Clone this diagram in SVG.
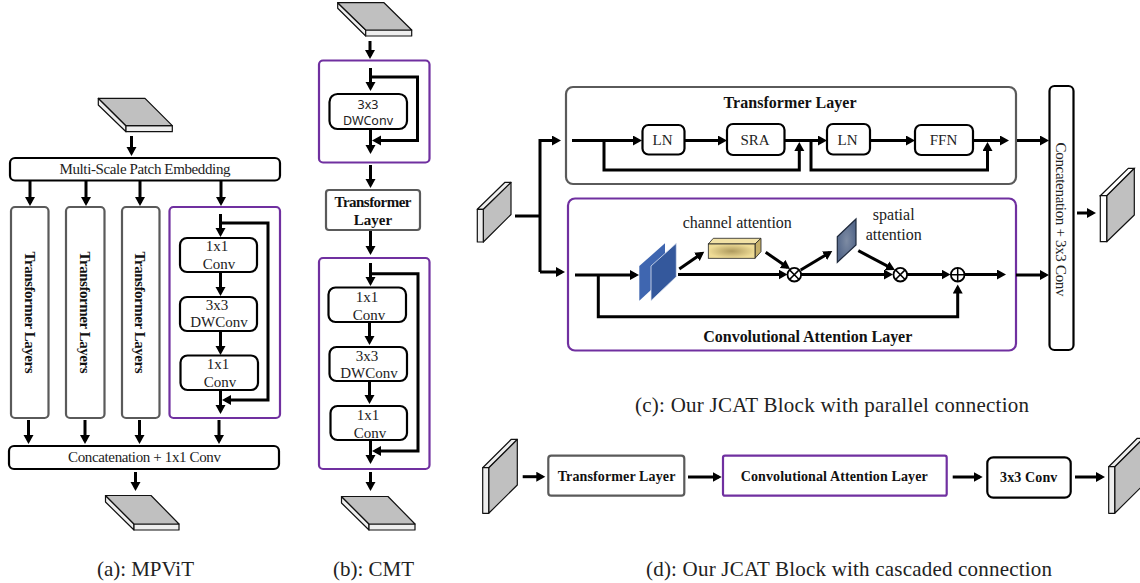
<svg xmlns="http://www.w3.org/2000/svg" width="1140" height="583" viewBox="0 0 1140 583">
<style>
text{font-family:"Liberation Serif","Times New Roman",serif;fill:#222;text-anchor:middle}
.t{font-size:15px}
.b{font-size:15px;font-weight:bold;fill:#111}
.cap{font-size:21px}
.bk{fill:#fff;stroke:#000;stroke-width:2.200}
.gr{fill:#fff;stroke:#5a5a5a;stroke-width:2.200}
.pu{fill:#fff;stroke:#7030a0;stroke-width:2.200}
.top{fill:#c0c0c0;stroke:#111;stroke-width:1.200;stroke-linejoin:round}
.fr{fill:#eee;stroke:#111;stroke-width:1.200;stroke-linejoin:round}
.c line,.c path{fill:none;stroke:#000;stroke-width:3}
.c .a{marker-end:url(#h)}
.op{fill:#fff;stroke:#000;stroke-width:1.800}
</style>
<defs>
<marker id="h" markerUnits="userSpaceOnUse" markerWidth="11" markerHeight="11" refX="6" refY="5" orient="auto"><path d="M0,0L9,5L0,10Z" fill="#000"/></marker>
<radialGradient id="gold"><stop offset="0" stop-color="#ae9a5e"/><stop offset="1" stop-color="#efdc96"/></radialGradient>
<radialGradient id="sp"><stop offset="0" stop-color="#7d8ba3"/><stop offset="1" stop-color="#55688a"/></radialGradient>
</defs>

<g id="a-in"><path class="fr" d="M98.300,98.300L126,125.700V131.700L98.300,105Z"/><path class="fr" d="M126,125.700H172.300V131.700H126Z"/><path class="top" d="M98.300,98.300H145L172.300,125.700H126Z"/></g>
<g id="a-embed"><rect class="bk" x="10" y="158" width="270" height="22.500" rx="5"/><text class="t" x="145" y="174" textLength="171">Multi-Scale Patch Embedding</text></g>
<g id="a-t1"><rect class="gr" x="11" y="207" width="37.500" height="211" rx="4"/><text class="b" transform="translate(25,312.500) rotate(90)" textLength="122">Transformer Layers</text></g>
<g id="a-t2"><rect class="gr" x="66" y="207" width="38.500" height="211" rx="4"/><text class="b" transform="translate(79.500,312.500) rotate(90)" textLength="122">Transformer Layers</text></g>
<g id="a-t3"><rect class="gr" x="122" y="207" width="37.500" height="211" rx="4"/><text class="b" transform="translate(135,312.500) rotate(90)" textLength="122">Transformer Layers</text></g>
<g id="a-conv"><rect class="pu" x="169.500" y="207" width="110.500" height="211" rx="4"/></g>
<g id="a-c1"><rect class="bk" x="180" y="238" width="77" height="34" rx="7"/><text class="t" x="217" y="251">1x1</text><text class="t" x="219" y="269">Conv</text></g>
<g id="a-c2"><rect class="bk" x="180" y="297" width="77" height="34" rx="7"/><text class="t" x="217" y="310">3x3</text><text class="t" x="219" y="327">DWConv</text></g>
<g id="a-c3"><rect class="bk" x="180.500" y="355.500" width="77.500" height="34.500" rx="7"/><text class="t" x="218" y="369">1x1</text><text class="t" x="220" y="387">Conv</text></g>
<g id="a-concat"><rect class="bk" x="9" y="446" width="270" height="23" rx="5"/><text class="t" x="144.500" y="462" textLength="153">Concatenation + 1x1 Conv</text></g>
<g id="a-out"><path class="fr" d="M105.500,495.500L134,524V530L105.500,502Z"/><path class="fr" d="M134,524H179V530H134Z"/><path class="top" d="M105.500,495.500H151L179,524H134Z"/></g>

<g id="b-in"><path class="fr" d="M337.700,2.700L365.700,30V36L337.700,8.300Z"/><path class="fr" d="M365.700,30H411.700V36H365.700Z"/><path class="top" d="M337.700,2.700H384L411.700,30H365.700Z"/></g>
<g id="b-conv1"><rect class="pu" x="319" y="60.500" width="110.500" height="102" rx="4"/></g>
<g id="b-dw"><rect class="bk" x="329.500" y="94" width="77.500" height="35" rx="8"/><text style="font-family:'Noto Sans','DejaVu Sans',sans-serif;font-size:12.500px" x="368" y="108.500">3x3</text><text style="font-family:'Noto Sans','DejaVu Sans',sans-serif;font-size:12.500px" x="368" y="124.500">DWConv</text></g>
<g id="b-trans"><rect class="gr" x="326" y="190" width="94" height="40" rx="3"/><text class="b" x="373" y="207" textLength="77">Transformer</text><text class="b" x="373" y="225">Layer</text></g>
<g id="b-conv2"><rect class="pu" x="319" y="258" width="110.500" height="211" rx="4"/></g>
<g id="b-c1"><rect class="bk" x="328.500" y="287.500" width="77.500" height="34.500" rx="7"/><text class="t" x="367" y="302">1x1</text><text class="t" x="369" y="319.500">Conv</text></g>
<g id="b-c2"><rect class="bk" x="329.500" y="347" width="77.500" height="34" rx="7"/><text class="t" x="367" y="360.500">3x3</text><text class="t" x="369" y="378">DWConv</text></g>
<g id="b-c3"><rect class="bk" x="330.500" y="406" width="76.500" height="34" rx="7"/><text class="t" x="368" y="420">1x1</text><text class="t" x="370" y="437.500">Conv</text></g>
<g id="b-out"><path class="fr" d="M341.500,496.500L369,524V530L341.500,503Z"/><path class="fr" d="M369,524H415V530H369Z"/><path class="top" d="M341.500,496.500H388L415,524H369Z"/></g>

<g id="c-in"><path class="top" d="M483.300,209.300L511,182.300V214.500L483.300,242Z"/><path class="fr" d="M477.300,209.300L505,182.300H511L483.300,209.300Z"/><path class="fr" d="M477.300,209.300H483.300V242H477.300Z"/></g>
<g id="c-trans"><rect class="gr" x="566" y="87" width="450" height="97" rx="7"/><text class="b" style="font-size:16px" x="790" y="108" textLength="133">Transformer Layer</text></g>
<g id="c-ln1"><rect class="bk" x="642.500" y="125" width="42" height="29.500" rx="6"/><text class="t" x="662.500" y="145">LN</text></g>
<g id="c-sra"><rect class="bk" x="727" y="124" width="57.500" height="31" rx="6"/><text class="t" x="755" y="145">SRA</text></g>
<g id="c-ln2"><rect class="bk" x="827" y="124" width="43" height="30.500" rx="6"/><text class="t" x="847.500" y="145">LN</text></g>
<g id="c-ffn"><rect class="bk" x="915" y="125" width="58" height="30" rx="6"/><text class="t" x="943.500" y="145">FFN</text></g>
<g id="c-conv"><rect class="pu" x="568" y="198.500" width="448" height="152" rx="7"/><text class="b" style="font-size:16px" x="807.800" y="342" textLength="209">Convolutional Attention Layer</text></g>
<g id="c-blue"><path fill="#3f66b0" d="M639.300,266L665,243.300V277L639.300,300.700Z"/><path fill="#34589c" stroke="#dfe6f2" stroke-width=".8" d="M651,266L676.300,243.300V276.700L651,300.700Z"/></g>
<g id="c-channel"><path fill="#f2e2a6" stroke="#222" stroke-width=".8" d="M708.300,244L713.300,238.300H761L755,244Z"/><path fill="#c6b06a" stroke="#222" stroke-width=".8" d="M755,244L761,238.300V251.700L755,258.300Z"/><rect x="708.300" y="244" width="46.700" height="14.300" fill="url(#gold)" stroke="#222" stroke-width=".8"/><text class="t" style="font-size:16px" x="737.300" y="228" textLength="109">channel attention</text></g>
<g id="c-spatial"><path fill="url(#sp)" stroke="#1f2a3d" stroke-width="1.200" d="M837.300,236.700L856,219V245L837.300,262.300Z"/><text class="t" style="font-size:16px" x="893.700" y="220">spatial</text><text class="t" style="font-size:16px" x="893.700" y="240">attention</text></g>
<g id="c-mul1"><circle class="op" cx="794.300" cy="274.700" r="6.800"/><path d="M789.500,269.900L799.100,279.500M799.100,269.900L789.500,279.500" stroke="#000" stroke-width="1.500"/></g>
<g id="c-mul2"><circle class="op" cx="900.300" cy="274.700" r="6.800"/><path d="M895.500,269.900L905.100,279.500M905.100,269.900L895.500,279.500" stroke="#000" stroke-width="1.500"/></g>
<g id="c-add"><circle class="op" cx="957.700" cy="274.700" r="6.800"/><path d="M950.900,274.700H964.500M957.700,267.900V281.500" stroke="#000" stroke-width="1.500"/></g>
<g id="c-concat"><rect class="bk" x="1049.500" y="86" width="24" height="264" rx="5"/><text class="t" transform="translate(1056,219.500) rotate(90)" textLength="154">Concatenation + 3x3 Conv</text></g>
<g id="c-out"><path class="top" d="M1106.700,195.700L1134.300,168.300V215L1106.700,241.700Z"/><path fill="#fff" stroke="#111" stroke-width="1.200" d="M1100.300,195.700L1128.300,168.300H1134.300L1106.700,195.700Z"/><path fill="#fff" stroke="#111" stroke-width="1.200" d="M1100.300,195.700H1106.700V241.700H1100.300Z"/></g>

<g id="d-in"><path class="top" d="M488.700,467.700L517.300,439.300V485L488.700,513.300Z"/><path class="fr" d="M482.700,467.700L511.300,439.300H517.300L488.700,467.700Z"/><path class="fr" d="M482.700,467.700H488.700V513.300H482.700Z"/></g>
<g id="d-trans"><rect class="gr" x="548.300" y="455.700" width="136" height="40" rx="3"/><text class="b" style="font-size:14px" x="616.500" y="481" textLength="117.700">Transformer Layer</text></g>
<g id="d-conv"><rect class="pu" x="723" y="455.700" width="223.700" height="40" rx="2"/><text class="b" style="font-size:14px" x="834.200" y="481" textLength="187">Convolutional Attention Layer</text></g>
<g id="d-3x3"><rect class="bk" x="987.300" y="457.300" width="83.400" height="40.400" rx="6"/><text class="b" style="font-size:14px" x="1028.700" y="482" textLength="57.300">3x3 Conv</text></g>
<g id="d-out"><path class="top" d="M1114.700,466.700L1143.300,438.300V485L1114.700,513.300Z"/><path class="fr" d="M1108.700,466.700L1137.300,438.300H1143.300L1114.700,466.700Z"/><path class="fr" d="M1108.700,466.700H1114.700V513.300H1108.700Z"/></g>

<g id="connectors" class="c">
<line class="a" x1="131.500" y1="136" x2="131.500" y2="153"/>
<line class="a" x1="30" y1="181" x2="30" y2="203"/>
<line class="a" x1="86" y1="181" x2="86" y2="203"/>
<line class="a" x1="140" y1="181" x2="140" y2="203"/>
<line class="a" x1="221" y1="181" x2="221" y2="203"/>
<line class="a" x1="220.500" y1="214" x2="220.500" y2="234"/>
<path d="M221,223H268V400H225" class="a"/>
<line class="a" x1="220.500" y1="272" x2="220.500" y2="293"/>
<line class="a" x1="220.500" y1="331" x2="220.500" y2="352"/>
<line class="a" x1="220.500" y1="390" x2="220.500" y2="411"/>
<line class="a" x1="28.500" y1="420" x2="28.500" y2="441"/>
<line class="a" x1="85" y1="420" x2="85" y2="441"/>
<line class="a" x1="139.500" y1="420" x2="139.500" y2="441"/>
<line class="a" x1="219" y1="420" x2="219" y2="441"/>
<line class="a" x1="135.500" y1="472" x2="135.500" y2="488"/>

<line class="a" x1="370" y1="41" x2="370" y2="56"/>
<line class="a" x1="370.500" y1="68" x2="370.500" y2="88"/>
<path d="M371,77H417.500V140.500H375" class="a"/>
<line class="a" x1="370.500" y1="130" x2="370.500" y2="151"/>
<line class="a" x1="370.500" y1="165" x2="370.500" y2="185"/>
<line class="a" x1="370.500" y1="231" x2="370.500" y2="252"/>
<line class="a" x1="370.500" y1="263" x2="370.500" y2="283"/>
<path d="M371,273.700H418V451H375" class="a"/>
<line class="a" x1="369.500" y1="322" x2="369.500" y2="342"/>
<line class="a" x1="369.500" y1="381" x2="369.500" y2="401"/>
<line class="a" x1="370.500" y1="440" x2="370.500" y2="461"/>
<line class="a" x1="370.500" y1="472" x2="370.500" y2="488"/>

<line x1="515" y1="216" x2="540" y2="216"/>
<path d="M540,272V140.500H558" class="a"/>
<path d="M540,272H562" class="a"/>
<line class="a" x1="572" y1="140.500" x2="639" y2="140.500"/>
<path d="M604,140.500V170H799.300V145" class="a"/>
<line class="a" x1="685" y1="140.500" x2="724" y2="140.500"/>
<line class="a" x1="785" y1="140.500" x2="824" y2="140.500"/>
<path d="M811,140.500V170H987.500V145" class="a"/>
<line class="a" x1="870" y1="140.500" x2="912" y2="140.500"/>
<line class="a" x1="973" y1="140.500" x2="1006" y2="140.500"/>
<line class="a" x1="1017" y1="140.500" x2="1046" y2="140.500"/>
<line class="a" x1="1077" y1="213" x2="1093" y2="213"/>
<line class="a" x1="575" y1="275" x2="636" y2="275"/>
<path d="M598.300,275V316.700H957.700V287.500" class="a"/>
<line class="a" x1="679.300" y1="269" x2="701.800" y2="253.400"/>
<line class="a" x1="678" y1="274.500" x2="784.500" y2="274.500"/>
<line class="a" x1="765.700" y1="252.300" x2="787.500" y2="267.300"/>
<line class="a" x1="800.700" y1="270" x2="829.700" y2="252.600"/>
<line class="a" x1="858.300" y1="250.700" x2="892.300" y2="268.600"/>
<line class="a" x1="801" y1="274.500" x2="890" y2="274.500"/>
<line class="a" x1="907" y1="274.500" x2="947.500" y2="274.500"/>
<line class="a" x1="965" y1="274.500" x2="1003" y2="274.500"/>
<line class="a" x1="1016" y1="275" x2="1046" y2="275"/>

<line class="a" x1="522.700" y1="476.700" x2="542.300" y2="476.700"/>
<line class="a" x1="688" y1="477" x2="718.700" y2="477"/>
<line class="a" x1="952.700" y1="477" x2="979.700" y2="477"/>
<line class="a" x1="1075" y1="477" x2="1102" y2="477"/>
</g>

<text class="cap" x="145.500" y="576" textLength="97">(a): MPViT</text>
<text class="cap" x="373.500" y="576" textLength="81">(b): CMT</text>
<text class="cap" x="832" y="412" textLength="394">(c): Our JCAT Block with parallel connection</text>
<text class="cap" x="849" y="576" textLength="406">(d): Our JCAT Block with cascaded connection</text>
</svg>
